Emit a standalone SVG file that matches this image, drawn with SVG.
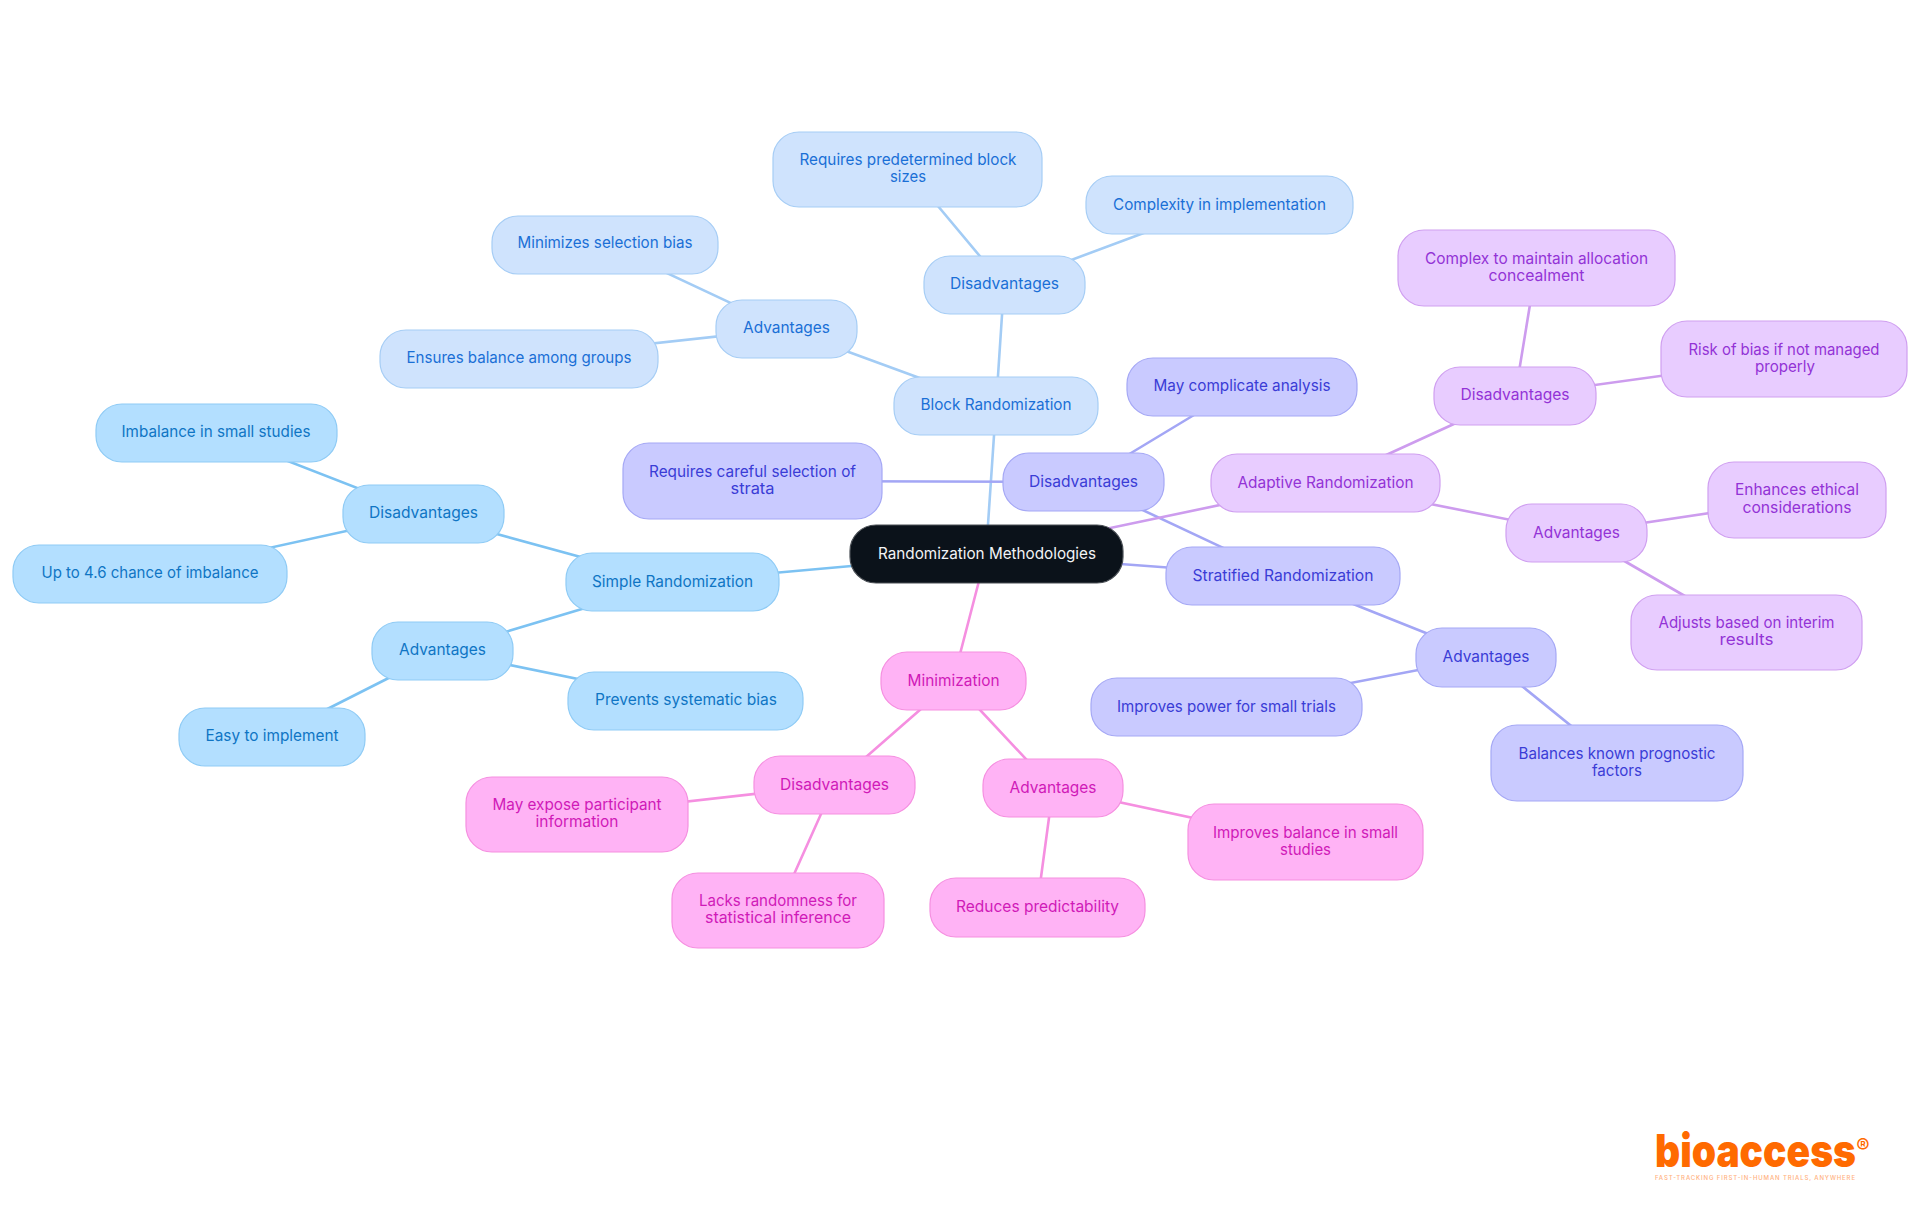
<svg xmlns="http://www.w3.org/2000/svg" width="1920" height="1215" viewBox="0 0 1920 1215">
<style>
text{font-family:Inter,"Noto Sans","Liberation Sans",sans-serif;font-size:16px;text-anchor:middle}
rect{stroke-width:1.2;rx:26px;ry:26px}
.e{stroke-width:2.6;fill:none}
.s rect{fill:#b3dfff;stroke:#8fcbf5}.s text{fill:#0f75c4}
.b rect{fill:#cfe3fd;stroke:#a6cdf5}.b text{fill:#1a6fd6}
.t rect{fill:#c9caff;stroke:#a5a8f5}.t text{fill:#3a3cd6}
.a rect{fill:#e8ccff;stroke:#cf9ff0}.a text{fill:#9333d6}
.m rect{fill:#ffb3f5;stroke:#f58fe0}.m text{fill:#d01ab8}
.es{stroke:#7cc2f2}.eb{stroke:#a3ccf5}.et{stroke:#a3a6f5}.ea{stroke:#cd9cee}.em{stroke:#f58fe0}
</style>
<g id="connectors">
<g class="e es">
<path d="M986 554L672 582M672 582L424 514M424 514L216 433M424 514L150 574M672 582L442 651M442 651L272 737M442 651L685 701"/>
</g>
<g class="e eb">
<path d="M986 554L996 406M996 406L1004 285M1004 285L1219 205M1004 285L907 169M996 406L786 329M786 329L605 244M786 329L519 358"/>
</g>
<g class="e et">
<path d="M986 554L1283 576M1283 576L1083 482M1083 482L1242 386M1083 482L752 481M1283 576L1486 657M1486 657L1226 707M1486 657L1617 763"/>
</g>
<g class="e ea">
<path d="M986 554L1325 483M1325 483L1515 396M1515 396L1536 268M1515 396L1784 359M1325 483L1576 533M1576 533L1797 500M1576 533L1747 632"/>
</g>
<g class="e em">
<path d="M986 554L953 681M953 681L834 785M834 785L576 814M834 785L778 910M953 681L1053 788M1053 788L1305 842M1053 788L1037 907"/>
</g>
</g>
<g id="root"><rect x="850" y="525" width="273" height="58" style="fill:#0b121a;stroke:#4a4f55"/><text x="987" y="559" fill="#f2f4f6" textLength="218" lengthAdjust="spacingAndGlyphs">Randomization Methodologies</text></g>
<g class="s">
<g id="simple"><rect x="566" y="553" width="213" height="58"/><text x="672.500" y="586.500" textLength="161" lengthAdjust="spacingAndGlyphs">Simple Randomization</text></g>
<g id="simple-dis"><rect x="343" y="485" width="161" height="58"/><text x="423.500" y="518" textLength="109" lengthAdjust="spacingAndGlyphs">Disadvantages</text></g>
<g id="simple-dis-1"><rect x="96" y="404" width="241" height="58"/><text x="216" y="437" textLength="189" lengthAdjust="spacingAndGlyphs">Imbalance in small studies</text></g>
<g id="simple-dis-2"><rect x="13" y="545" width="274" height="58"/><text x="150" y="578" textLength="217" lengthAdjust="spacingAndGlyphs">Up to 4.6 chance of imbalance</text></g>
<g id="simple-adv"><rect x="372" y="622" width="141" height="58"/><text x="442.500" y="655" textLength="87" lengthAdjust="spacingAndGlyphs">Advantages</text></g>
<g id="simple-adv-1"><rect x="179" y="708" width="186" height="58"/><text x="272" y="741" textLength="133" lengthAdjust="spacingAndGlyphs">Easy to implement</text></g>
<g id="simple-adv-2"><rect x="568" y="672" width="235" height="58"/><text x="686" y="705" textLength="182" lengthAdjust="spacingAndGlyphs">Prevents systematic bias</text></g>
</g>
<g class="b">
<g id="block"><rect x="894" y="377" width="204" height="58"/><text x="996" y="410" textLength="151" lengthAdjust="spacingAndGlyphs">Block Randomization</text></g>
<g id="block-dis"><rect x="924" y="256" width="161" height="58"/><text x="1004.500" y="289" textLength="109" lengthAdjust="spacingAndGlyphs">Disadvantages</text></g>
<g id="block-dis-1"><rect x="1086" y="176" width="267" height="58"/><text x="1219.500" y="209.500" textLength="213" lengthAdjust="spacingAndGlyphs">Complexity in implementation</text></g>
<g id="block-dis-2"><rect x="773" y="132" width="269" height="75"/><text x="908" y="165" textLength="217" lengthAdjust="spacingAndGlyphs">Requires predetermined block</text><text x="908" y="182" textLength="36" lengthAdjust="spacingAndGlyphs">sizes</text></g>
<g id="block-adv"><rect x="716" y="300" width="141" height="58"/><text x="786.500" y="333" textLength="87" lengthAdjust="spacingAndGlyphs">Advantages</text></g>
<g id="block-adv-1"><rect x="492" y="216" width="226" height="58"/><text x="605" y="248" textLength="175" lengthAdjust="spacingAndGlyphs">Minimizes selection bias</text></g>
<g id="block-adv-2"><rect x="380" y="330" width="278" height="58"/><text x="519" y="362.500" textLength="225" lengthAdjust="spacingAndGlyphs">Ensures balance among groups</text></g>
</g>
<g class="t">
<g id="stratified"><rect x="1166" y="547" width="234" height="58"/><text x="1283" y="580.500" textLength="181" lengthAdjust="spacingAndGlyphs">Stratified Randomization</text></g>
<g id="strat-dis"><rect x="1003" y="453" width="161" height="58"/><text x="1083.500" y="487" textLength="109" lengthAdjust="spacingAndGlyphs">Disadvantages</text></g>
<g id="strat-dis-1"><rect x="1127" y="358" width="230" height="58"/><text x="1242" y="391" textLength="177" lengthAdjust="spacingAndGlyphs">May complicate analysis</text></g>
<g id="strat-dis-2"><rect x="623" y="443" width="259" height="76"/><text x="752.500" y="476.500" textLength="207" lengthAdjust="spacingAndGlyphs">Requires careful selection of</text><text x="752.500" y="493.500" textLength="44" lengthAdjust="spacingAndGlyphs">strata</text></g>
<g id="strat-adv"><rect x="1416" y="628" width="140" height="59"/><text x="1486" y="661.500" textLength="87" lengthAdjust="spacingAndGlyphs">Advantages</text></g>
<g id="strat-adv-1"><rect x="1091" y="678" width="271" height="58"/><text x="1226.500" y="711.500" textLength="219" lengthAdjust="spacingAndGlyphs">Improves power for small trials</text></g>
<g id="strat-adv-2"><rect x="1491" y="725" width="252" height="76"/><text x="1617" y="758.500" textLength="197" lengthAdjust="spacingAndGlyphs">Balances known prognostic</text><text x="1617" y="775.500" textLength="50" lengthAdjust="spacingAndGlyphs">factors</text></g>
</g>
<g class="a">
<g id="adaptive"><rect x="1211" y="454" width="229" height="58"/><text x="1325.500" y="487.500" textLength="176" lengthAdjust="spacingAndGlyphs">Adaptive Randomization</text></g>
<g id="adapt-dis"><rect x="1434" y="367" width="162" height="58"/><text x="1515" y="400" textLength="109" lengthAdjust="spacingAndGlyphs">Disadvantages</text></g>
<g id="adapt-dis-1"><rect x="1398" y="230" width="277" height="76"/><text x="1536.500" y="264" textLength="223" lengthAdjust="spacingAndGlyphs">Complex to maintain allocation</text><text x="1536.500" y="281" textLength="96" lengthAdjust="spacingAndGlyphs">concealment</text></g>
<g id="adapt-dis-2"><rect x="1661" y="321" width="246" height="76"/><text x="1784" y="354.500" textLength="191" lengthAdjust="spacingAndGlyphs">Risk of bias if not managed</text><text x="1785" y="372" textLength="60" lengthAdjust="spacingAndGlyphs">properly</text></g>
<g id="adapt-adv"><rect x="1506" y="504" width="141" height="58"/><text x="1576.500" y="537.500" textLength="87" lengthAdjust="spacingAndGlyphs">Advantages</text></g>
<g id="adapt-adv-1"><rect x="1708" y="462" width="178" height="76"/><text x="1797" y="495" textLength="124" lengthAdjust="spacingAndGlyphs">Enhances ethical</text><text x="1797" y="512.500" textLength="109" lengthAdjust="spacingAndGlyphs">considerations</text></g>
<g id="adapt-adv-2"><rect x="1631" y="595" width="231" height="75"/><text x="1746.500" y="628" textLength="176" lengthAdjust="spacingAndGlyphs">Adjusts based on interim</text><text x="1746.500" y="645" textLength="54" lengthAdjust="spacingAndGlyphs">results</text></g>
</g>
<g class="m">
<g id="minimization"><rect x="881" y="652" width="145" height="58"/><text x="953.500" y="685.500" textLength="92" lengthAdjust="spacingAndGlyphs">Minimization</text></g>
<g id="min-dis"><rect x="754" y="756" width="161" height="58"/><text x="834.500" y="789.500" textLength="109" lengthAdjust="spacingAndGlyphs">Disadvantages</text></g>
<g id="min-dis-1"><rect x="466" y="777" width="222" height="75"/><text x="577" y="809.500" textLength="169" lengthAdjust="spacingAndGlyphs">May expose participant</text><text x="577" y="827" textLength="83" lengthAdjust="spacingAndGlyphs">information</text></g>
<g id="min-dis-2"><rect x="672" y="873" width="212" height="75"/><text x="778" y="906" textLength="158" lengthAdjust="spacingAndGlyphs">Lacks randomness for</text><text x="778" y="923" textLength="146" lengthAdjust="spacingAndGlyphs">statistical inference</text></g>
<g id="min-adv"><rect x="983" y="759" width="140" height="58"/><text x="1053" y="792.500" textLength="87" lengthAdjust="spacingAndGlyphs">Advantages</text></g>
<g id="min-adv-1"><rect x="1188" y="804" width="235" height="76"/><text x="1305.500" y="837.500" textLength="185" lengthAdjust="spacingAndGlyphs">Improves balance in small</text><text x="1305.500" y="854.500" textLength="51" lengthAdjust="spacingAndGlyphs">studies</text></g>
<g id="min-adv-2"><rect x="930" y="878" width="215" height="59"/><text x="1037.500" y="912" textLength="163" lengthAdjust="spacingAndGlyphs">Reduces predictability</text></g>
</g>
<g id="logo">
<text x="1755.500" y="1167" style="font-size:46px;font-weight:900;fill:#ff6a00" textLength="201" lengthAdjust="spacingAndGlyphs">bioaccess</text>
<text x="1863" y="1153" style="font-size:20px;font-weight:500;fill:#ff6a00">®</text>
<text x="1755" y="1179.500" style="font-size:6px;font-weight:500;fill:#ffb27f" textLength="200" lengthAdjust="spacing">FAST-TRACKING FIRST-IN-HUMAN TRIALS, ANYWHERE</text>
</g>
</svg>
